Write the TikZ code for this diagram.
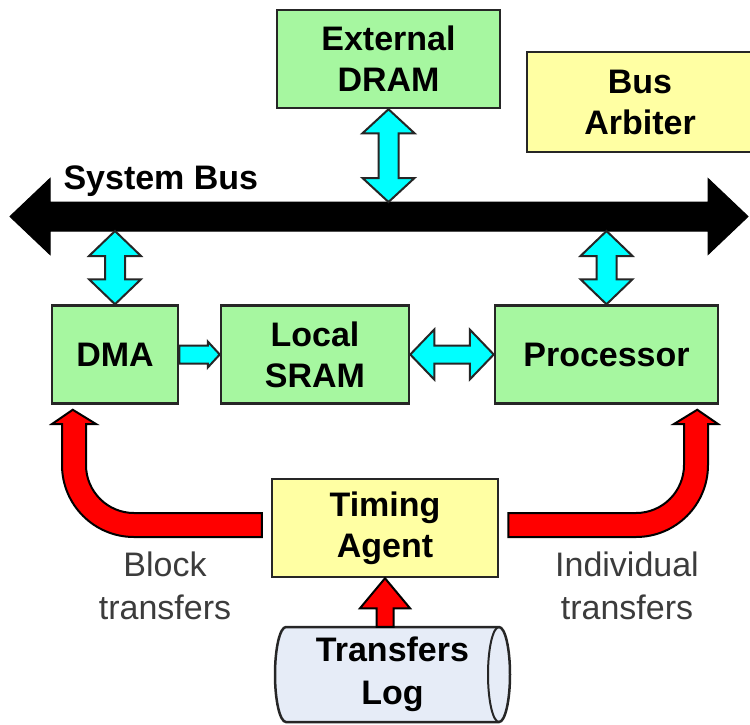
\documentclass[tikz,border=0pt]{standalone}
\usepackage{fontspec}
\setmainfont{Liberation Sans}
\usetikzlibrary{calc}

\definecolor{boxgreen}{HTML}{A6F7A0}
\definecolor{boxyellow}{HTML}{FFFFA3}
\definecolor{logblue}{HTML}{E6ECF7}
\definecolor{linkcyan}{HTML}{00FFFF}
\definecolor{labelgray}{HTML}{3C3C3C}

% block arrows: #1 style, #2/#3 tips (or tail/tip), #4 head half-width,
% #5 shaft half-width, #6 head length
\newcommand{\vdblarrow}[6]{%
  \draw[#1] (#2) -- ($(#2)+(#4,#6)$) -- ($(#2)+(#5,#6)$) -- ($(#3)+(#5,-#6)$)
    -- ($(#3)+(#4,-#6)$) -- (#3) -- ($(#3)+(-#4,-#6)$) -- ($(#3)+(-#5,-#6)$)
    -- ($(#2)+(-#5,#6)$) -- ($(#2)+(-#4,#6)$) -- cycle;}
\newcommand{\hdblarrow}[6]{%
  \draw[#1] (#2) -- ($(#2)+(#6,-#4)$) -- ($(#2)+(#6,-#5)$) -- ($(#3)+(-#6,-#5)$)
    -- ($(#3)+(-#6,-#4)$) -- (#3) -- ($(#3)+(-#6,#4)$) -- ($(#3)+(-#6,#5)$)
    -- ($(#2)+(#6,#5)$) -- ($(#2)+(#6,#4)$) -- cycle;}
\newcommand{\rightblockarrow}[6]{%
  \draw[#1] ($(#2)+(0,-#5)$) -- ($(#3)+(-#6,-#5)$) -- ($(#3)+(-#6,-#4)$) -- (#3)
    -- ($(#3)+(-#6,#4)$) -- ($(#3)+(-#6,#5)$) -- ($(#2)+(0,#5)$) -- cycle;}
\newcommand{\upblockarrow}[6]{%
  \draw[#1] ($(#2)+(-#5,0)$) -- ($(#3)+(-#5,#6)$) -- ($(#3)+(-#4,#6)$) -- (#3)
    -- ($(#3)+(#4,#6)$) -- ($(#3)+(#5,#6)$) -- ($(#2)+(#5,0)$) -- cycle;}

\begin{document}
\begin{tikzpicture}[x=1pt,y=-1pt,
  unit/.style={draw=black!85, line width=2.5pt, align=center, inner sep=0pt,
    font=\bfseries\fontsize{34}{41}\selectfont},
  greenbox/.style={unit, fill=boxgreen},
  yellowbox/.style={unit, fill=boxyellow},
  cyanarrow/.style={draw=black!85, line width=2pt, fill=linkcyan, line join=miter},
  redarrow/.style={draw=black, line width=2pt, fill=red},
  busarrow/.style={draw=black, fill=black, line width=1pt},
  note/.style={align=center, text=labelgray, font=\fontsize{34}{43}\selectfont}]

\useasboundingbox (0,0) rectangle (750,724);

% components
\node[greenbox, minimum width=223pt, minimum height=98pt] (dram) at (388.5,59) {External\\DRAM};
\node[yellowbox, minimum width=226pt, minimum height=100pt] (arbiter) at (640,102) {Bus\\Arbiter};
\node[greenbox, minimum width=126pt, minimum height=98pt] (dma) at (115,354.5) {DMA};
\node[greenbox, minimum width=188pt, minimum height=98pt] (sram) at (315,354.5) {Local\\SRAM};
\node[greenbox, minimum width=223pt, minimum height=98pt] (proc) at (606.5,354.5) {Processor};
\node[yellowbox, minimum width=226pt, minimum height=98pt] (timing) at (385,528) {Timing\\Agent};

% system bus
\coordinate (busL) at (10,216.5);
\coordinate (busR) at (748,216.5);
\coordinate (bustop) at (0,202);
\coordinate (busbot) at (0,231);
\hdblarrow{busarrow}{busL}{busR}{38}{14.5}{40}
\node[anchor=base west, font=\bfseries\fontsize{34}{41}\selectfont] (buslabel) at (60,189) {System Bus};

% transfers log (cylinder lying on its side)
\node[inner sep=0pt, minimum width=235pt, minimum height=95pt] (log) at (392.5,674.5) {};
\draw[draw=black!85, line width=2.5pt, fill=logblue]
  (286,627) -- (499,627)
  .. controls (505.08,627) and (510,648.27) .. (510,674.5)
  .. controls (510,700.73) and (505.08,722) .. (499,722)
  -- (286,722)
  .. controls (279.92,722) and (275,700.73) .. (275,674.5)
  .. controls (275,648.27) and (279.92,627) .. (286,627) -- cycle;
\draw[draw=black!85, line width=2pt]
  (499,722) .. controls (492.92,722) and (488,700.73) .. (488,674.5)
  .. controls (488,648.27) and (492.92,627) .. (499,627);
\node[font=\bfseries\fontsize{34}{43}\selectfont, align=center] at (log.center) {Transfers\\Log};

% bus links
\vdblarrow{cyanarrow}{dram.south}{dram.south |- bustop}{26}{10}{24}
\vdblarrow{cyanarrow}{dma.north |- busbot}{dma.north}{26}{10}{25}
\vdblarrow{cyanarrow}{proc.north |- busbot}{proc.north}{26}{10}{25}

% local links
\hdblarrow{cyanarrow}{sram.east}{proc.west}{25}{9}{24}
\rightblockarrow{cyanarrow}{dma.east}{sram.west}{13}{9}{12}

% timing agent to the transfer engines
\coordinate (blockstart) at ($(timing.west)+(-9,-3)$);
\coordinate (blocktip) at ($(dma.south west)+(22,5)$);
\draw[redarrow]
  (blockstart |- 0,513) -- (134,513) .. controls (107.5,513) and (86,491.5) .. (86,465)
  -- (86,424) -- (96,424) -- (blocktip) -- (52,424) -- (62,424) -- (62,465)
  .. controls (62,504.8) and (94.2,537) .. (134,537) -- (blockstart |- 0,537) -- cycle;

\coordinate (indivstart) at ($(timing.east)+(9,-3)$);
\coordinate (indivtip) at ($(proc.south east)+(-22,5)$);
\draw[redarrow]
  (indivstart |- 0,513) -- (636,513) .. controls (662.5,513) and (684,491.5) .. (684,465)
  -- (684,424) -- (674,424) -- (indivtip) -- (718,424) -- (708,424) -- (708,465)
  .. controls (708,504.8) and (675.8,537) .. (636,537) -- (indivstart |- 0,537) -- cycle;

% log feeds the timing agent
\upblockarrow{redarrow}{timing.south |- log.north}{timing.south}{25}{8.5}{30}

% transfer labels
\node[note] (blocklabel) at (165,586) {Block\\transfers};
\node[note] (indivlabel) at (627,586) {Individual\\transfers};

\end{tikzpicture}
\end{document}
